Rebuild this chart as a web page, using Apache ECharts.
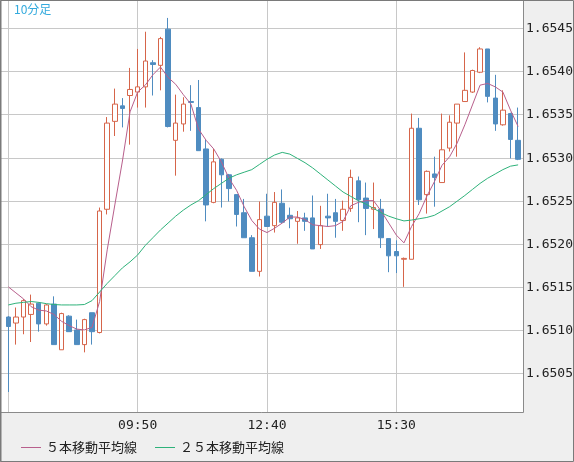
<!DOCTYPE html>
<html><head><meta charset="utf-8">
<script src="https://cdn.jsdelivr.net/npm/echarts@6/dist/echarts.min.js"></script>
<style>html,body{margin:0;padding:0;background:#efefef}#c{width:574px;height:462px}</style>
</head><body><div id="c"></div>
<script>
var times = ['07:00','07:10','07:20','07:30','07:40','07:50','08:00','08:10','08:20','08:30','08:40','08:50','09:00','09:10','09:20','09:30','09:40','09:50','10:00','10:10','10:20','10:30','10:40','10:50','11:00','11:10','11:20','11:30','11:40','11:50','12:00','12:10','12:20','12:30','12:40','12:50','13:00','13:10','13:20','13:30','13:40','13:50','14:00','14:10','14:20','14:30','14:40','14:50','15:00','15:10','15:20','15:30','15:40','15:50','16:00','16:10','16:20','16:30','16:40','16:50','17:00','17:10','17:20','17:30','17:40','17:50','18:00','18:10'];
var openV = [1.65115,1.65108,1.65115,1.65118,1.65131,1.65107,1.65130,1.65077,1.65116,1.65100,1.65083,1.65120,1.65097,1.65240,1.65342,1.65360,1.65372,1.65376,1.65382,1.65410,1.65407,1.65449,1.65320,1.65339,1.65365,1.65358,1.65310,1.65248,1.65298,1.65280,1.65257,1.65236,1.65207,1.65168,1.65232,1.65221,1.65247,1.65233,1.65226,1.65230,1.65230,1.65199,1.65232,1.65236,1.65227,1.65241,1.65273,1.65253,1.65240,1.65240,1.65206,1.65191,1.65182,1.65182,1.65334,1.65257,1.65281,1.65271,1.65311,1.65340,1.65365,1.65376,1.65399,1.65426,1.65369,1.65338,1.65351,1.65320];
var closeV = [1.65104,1.65115,1.65134,1.65130,1.65107,1.65129,1.65083,1.65119,1.65098,1.65083,1.65112,1.65098,1.65238,1.65340,1.65362,1.65357,1.65379,1.65382,1.65412,1.65408,1.65438,1.65336,1.65340,1.65362,1.65364,1.65308,1.65245,1.65295,1.65280,1.65264,1.65234,1.65207,1.65168,1.65228,1.65220,1.65248,1.65225,1.65229,1.65230,1.65226,1.65194,1.65221,1.65230,1.65226,1.65240,1.65277,1.65251,1.65241,1.65242,1.65207,1.65186,1.65186,1.65183,1.65334,1.65251,1.65284,1.65277,1.65309,1.65341,1.65362,1.65378,1.65401,1.65426,1.65371,1.65339,1.65355,1.65321,1.65298];
var lowV = [1.65028,1.65083,1.65095,1.65086,1.65098,1.65105,1.65083,1.65077,1.65098,1.65083,1.65074,1.65083,1.65096,1.65234,1.65325,1.65335,1.65315,1.65358,1.65358,1.65372,1.65378,1.65335,1.65279,1.65330,1.65331,1.65308,1.65226,1.65247,1.65242,1.65249,1.65220,1.65207,1.65168,1.65162,1.65220,1.65213,1.65224,1.65218,1.65200,1.65215,1.65194,1.65194,1.65220,1.65207,1.65215,1.65237,1.65225,1.65210,1.65217,1.65195,1.65167,1.65166,1.65150,1.65182,1.65245,1.65235,1.65243,1.65271,1.65307,1.65301,1.65365,1.65375,1.65398,1.65364,1.65331,1.65337,1.65299,1.65297];
var highV = [1.65116,1.65126,1.65136,1.65141,1.65132,1.65130,1.65139,1.65120,1.65117,1.65112,1.65113,1.65120,1.65242,1.65347,1.65380,1.65369,1.65404,1.65426,1.65446,1.65413,1.65440,1.65462,1.65373,1.65370,1.65384,1.65390,1.65321,1.65310,1.65299,1.65281,1.65257,1.65252,1.65210,1.65249,1.65258,1.65260,1.65263,1.65242,1.65238,1.65236,1.65256,1.65244,1.65258,1.65252,1.65250,1.65286,1.65278,1.65271,1.65271,1.65252,1.65206,1.65204,1.65184,1.65351,1.65346,1.65285,1.65301,1.65351,1.65349,1.65362,1.65422,1.65402,1.65428,1.65426,1.65396,1.65378,1.65352,1.65358];
var ma5 = [1.65150,1.65143,1.65136,1.65127,1.65123,1.65122,1.65118,1.65110,1.65105,1.65101,1.65100,1.65103,1.65133,1.65193,1.65245,1.65296,1.65353,1.65376,1.65384,1.65396,1.65405,1.65393,1.65385,1.65373,1.65362,1.65333,1.65320,1.65310,1.65295,1.65276,1.65262,1.65243,1.65227,1.65217,1.65213,1.65218,1.65224,1.65231,1.65231,1.65228,1.65222,1.65221,1.65220,1.65221,1.65226,1.65244,1.65248,1.65250,1.65250,1.65238,1.65224,1.65210,1.65201,1.65220,1.65235,1.65255,1.65272,1.65291,1.65301,1.65317,1.65338,1.65361,1.65384,1.65386,1.65382,1.65376,1.65355,1.65336];
var ma25 = [1.65129,1.65131,1.65132,1.65133,1.65132,1.651305,1.651295,1.65129,1.65129,1.65129,1.651295,1.65134,1.65144,1.65154,1.65163,1.65172,1.65179,1.65187,1.65198,1.65207,1.65216,1.65224,1.65232,1.65239,1.65245,1.65250,1.65257,1.65264,1.65270,1.65276,1.65280,1.65283,1.65286,1.65292,1.65298,1.65303,1.65306,1.65304,1.65299,1.65294,1.65288,1.65281,1.65274,1.65267,1.65260,1.65255,1.65250,1.65246,1.65241,1.65236,1.65232,1.65229,1.652265,1.652275,1.65229,1.652305,1.65233,1.65238,1.65243,1.652495,1.65256,1.65263,1.65270,1.65276,1.65281,1.65286,1.65290,1.652915];
var yTicks = [1.6505,1.6510,1.6515,1.6520,1.6525,1.6530,1.6535,1.6540,1.6545];
var xGridTimes = ['07:00','09:50','12:40','15:30'];
var xLabelTimes = ['09:50','12:40','15:30'];
var seriesNames = ['５本移動平均線','２５本移動平均線'];
var title = '10分足';

var ohlc = times.map(function(t,i){return [openV[i],closeV[i],lowV[i],highV[i]];});
var chart = echarts.init(document.getElementById('c'), null, {renderer:'canvas'});
var mono = 'DejaVu Sans Mono';
chart.setOption({
  animation:false,
  backgroundColor:'#efefef',
  grid:{left:4.5, top:0, width:517.4, height:412},
  xAxis:{type:'category', data:times, boundaryGap:true,
    axisLine:{show:false}, axisTick:{show:false}, splitLine:{show:false},
    axisLabel:{interval:function(i,v){return xLabelTimes.indexOf(v)>=0;}, color:'#222', fontFamily:mono, fontSize:13, margin:7}},
  yAxis:{type:'value', min:1.650048, max:1.654828, axisLine:{show:false}, axisTick:{show:false}, axisLabel:{show:false}, splitLine:{show:false}},
  legend:{data:seriesNames, left:16, top:436, icon:'rect', itemWidth:20, itemHeight:1, itemGap:18,
    textStyle:{fontSize:13, fontFamily:'Noto Sans CJK JP', color:'#222'}},
  graphic:[
    {type:'rect', z:-5, silent:true, shape:{x:1,y:1,width:522,height:411}, style:{fill:'#ffffff'}},
    {type:'line', z:50, silent:true, shape:{x1:523.5,y1:0,x2:523.5,y2:412.5}, style:{stroke:'#8a8a8a',lineWidth:1}},
    {type:'line', z:50, silent:true, shape:{x1:0,y1:412.5,x2:523.5,y2:412.5}, style:{stroke:'#8a8a8a',lineWidth:1}},
    {type:'rect', z:50, silent:true, shape:{x:0.5,y:0.5,width:573,height:461}, style:{fill:null, stroke:'#7a7a7a', lineWidth:1}},
    {type:'line', z:50, silent:true, shape:{x1:1,y1:0,x2:1,y2:462}, style:{stroke:'#7a7a7a',lineWidth:1}},
    {type:'text', z:50, silent:true, left:14, top:3, style:{text:title, fill:'#33aadd', font:'12px "Noto Sans CJK JP"'}}
  ],
  series:[
    {type:'custom', name:'grid', z:1, silent:true, clip:false,
      data:yTicks.map(function(v){return [0, v];}),
      renderItem:function(params, api){
        var v = api.value(1);
        var y = Math.round(api.coord([0, v])[1]) + 0.5;
        return {type:'group', children:[
          {type:'line', shape:{x1:1, y1:y, x2:523, y2:y}, style:{stroke:'#c8c8c8', lineWidth:1}},
          {type:'text', style:{text:v.toFixed(4), x:526, y:y, fill:'#222', font:'13px "DejaVu Sans Mono"', verticalAlign:'middle', align:'left'}}
        ]};
      }
    },
    {type:'candlestick', name:'price', data:ohlc, barWidth:5, z:3,
      itemStyle:{color:'#ffffff', borderColor:'#d6654a', color0:'#4f8cc0', borderColor0:'#4f8cc0', borderWidth:1}
    },
    {type:'line', name:seriesNames[0], data:ma5, color:'#b85f8c', symbol:'none', z:4,
      lineStyle:{width:1, color:'#b85f8c'}},
    {type:'line', name:seriesNames[1], data:ma25, color:'#2eb27a', symbol:'none', z:4,
      lineStyle:{width:1, color:'#2eb27a'},
      markLine:{z:1, silent:true, symbol:['none','none'], animation:false,
        lineStyle:{color:'#c8c8c8', width:1, type:'solid'}, label:{show:false},
        data:xGridTimes.map(function(t){return {xAxis:t};})}
    }
  ]
});
</script></body></html>
